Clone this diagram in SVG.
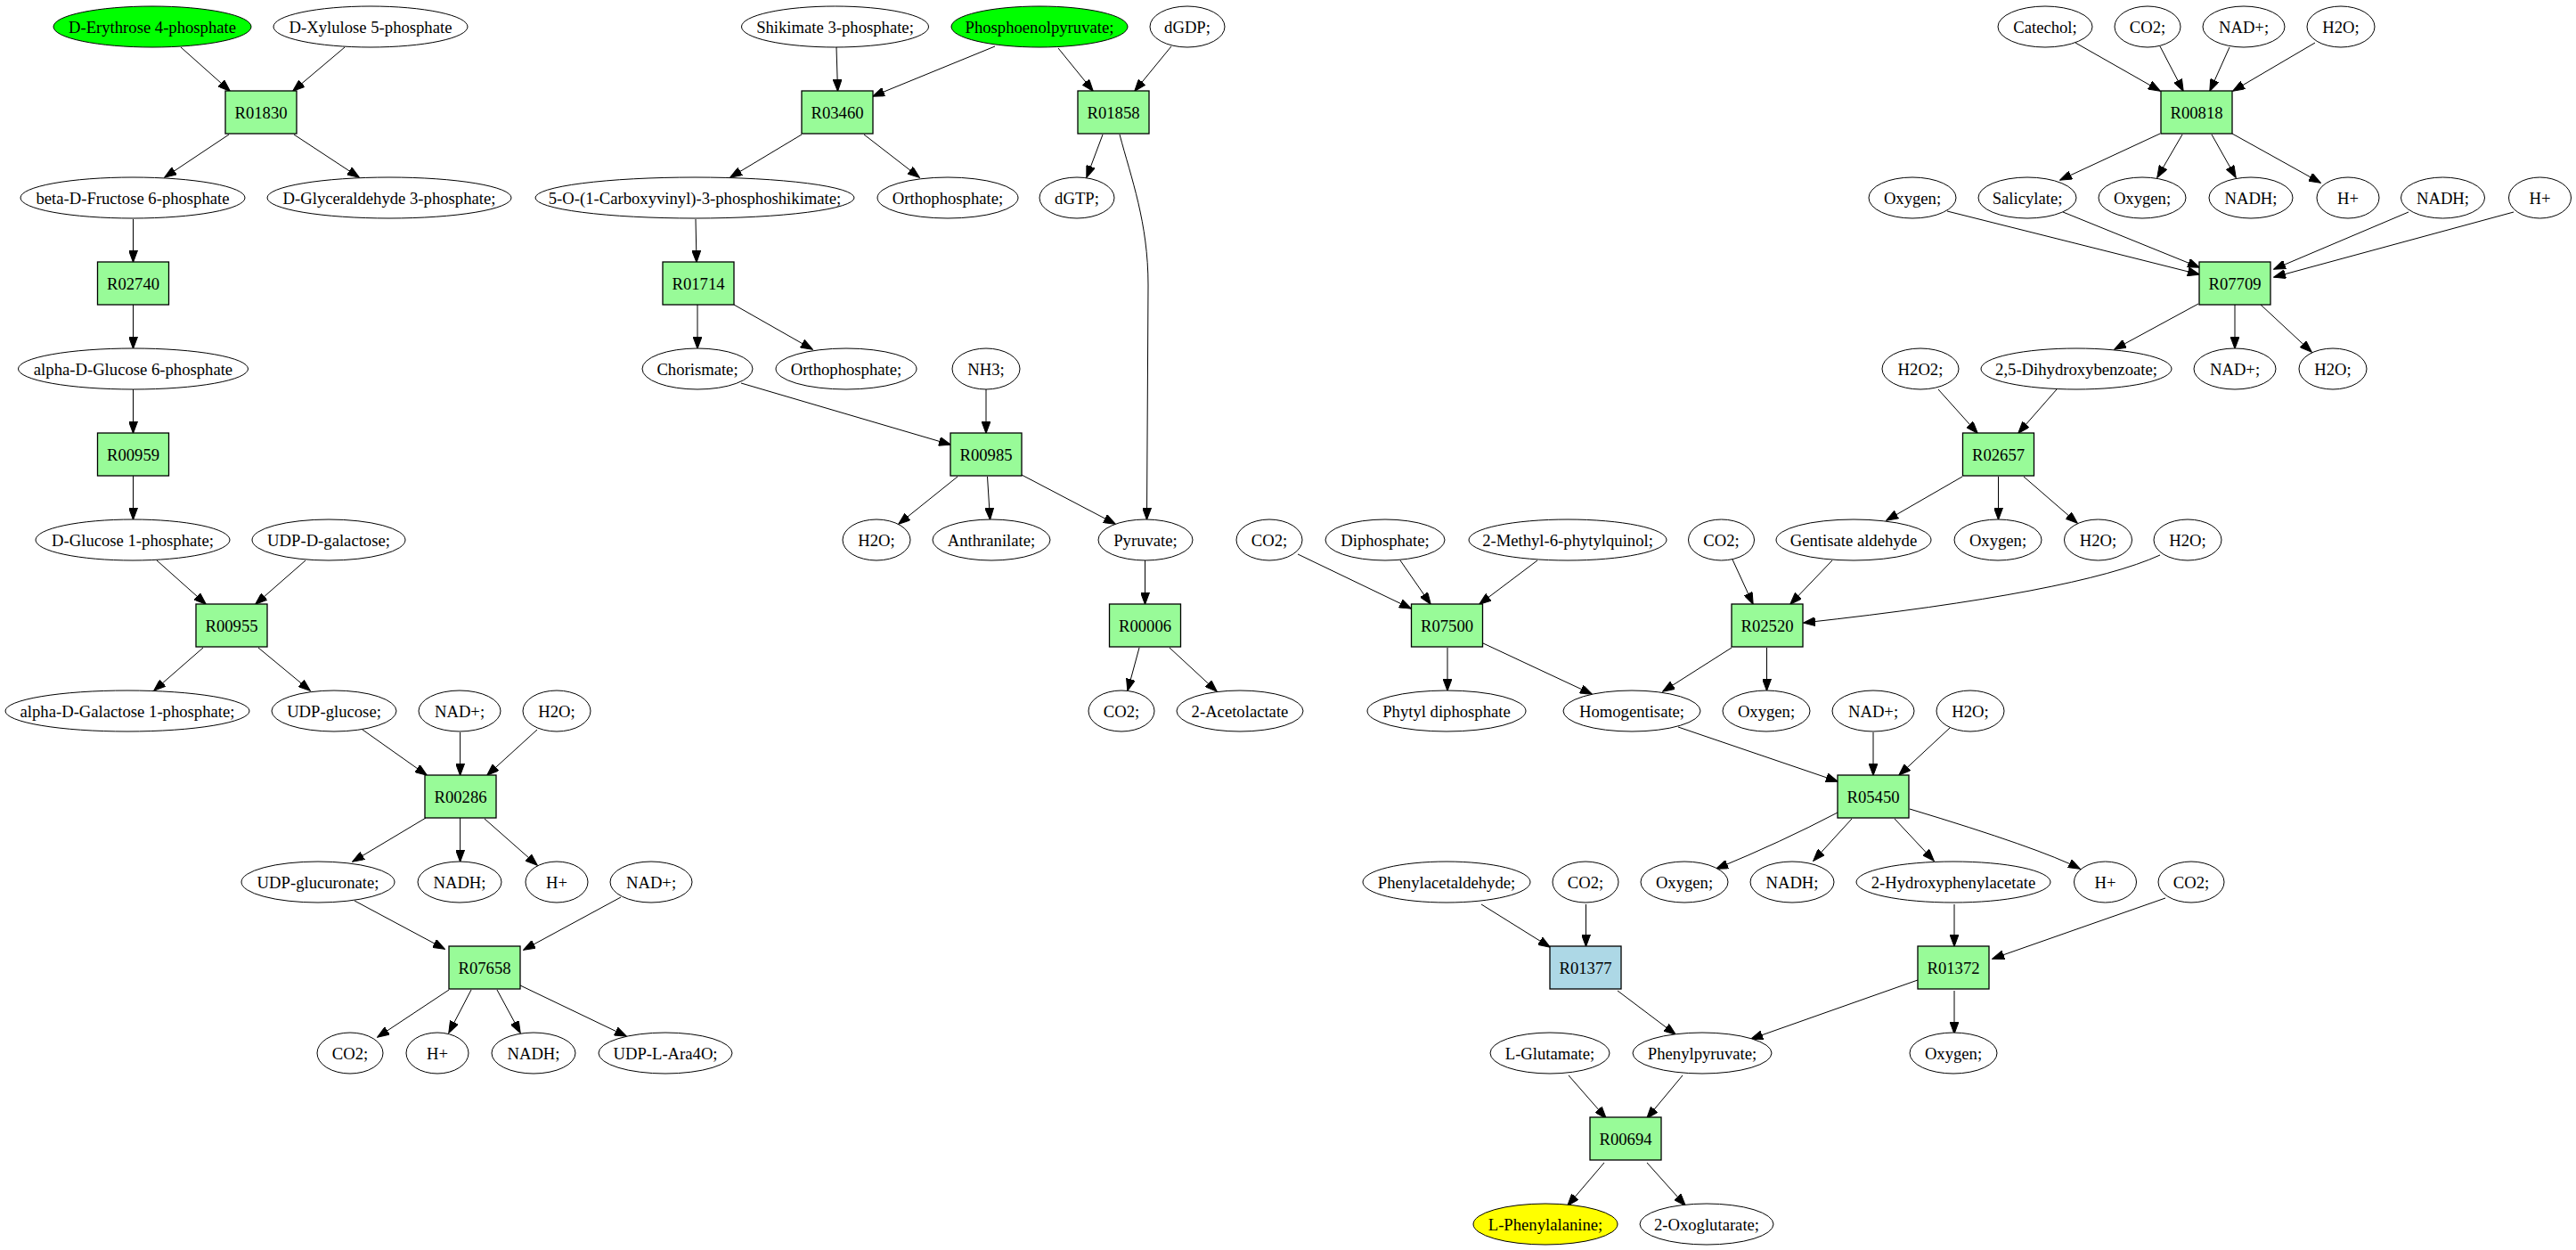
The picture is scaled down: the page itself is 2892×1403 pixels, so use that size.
<svg xmlns="http://www.w3.org/2000/svg" width="2892" height="1403" viewBox="0 0 2892 1403">
<defs>
<marker id="a" markerUnits="userSpaceOnUse" markerWidth="14" markerHeight="10" refX="13" refY="5" orient="auto" viewBox="0 0 14 10"><path d="M0,0 L13.5,5 L0,10 z" fill="#000" stroke="#000" stroke-width="1"/></marker>
<style>
.m ellipse{fill:#fff;stroke:#000;stroke-width:1}
.g ellipse{fill:#00ff00}
.y ellipse{fill:#ffff00}
.r rect{fill:#98fb98;stroke:#000;stroke-width:1.3}
.b rect{fill:#add8e6}
text{font-family:"Liberation Serif","Times New Roman",serif;font-size:18.67px;text-anchor:middle;fill:#000}
#edges path{fill:none;stroke:#000;stroke-width:1;marker-end:url(#a)}
</style>
</defs>
<rect width="2892" height="1403" fill="#fff"/>
<g id="edges">
<path d="M203,53 L258,102"/>
<path d="M387,53 L329,102"/>
<path d="M257,151 L185,199"/>
<path d="M330,151 L403,199"/>
<path d="M149.5,246 L149.5,294"/>
<path d="M149.5,342 L149.5,391"/>
<path d="M149.5,437 L149.5,486"/>
<path d="M149.5,534 L149.5,583"/>
<path d="M176,629 L231,678"/>
<path d="M343,629 L287,678"/>
<path d="M228,727 L173,775"/>
<path d="M290,727 L348,775"/>
<path d="M407,819 L479,870"/>
<path d="M516.6,822 L516.6,870"/>
<path d="M603,819 L547,870"/>
<path d="M478,918 L396,967"/>
<path d="M516.6,918 L516.6,967"/>
<path d="M544,919 L603,971"/>
<path d="M398,1011 L499,1065"/>
<path d="M697,1007 L588,1066"/>
<path d="M504,1111 L424,1164"/>
<path d="M529,1111 L504,1159"/>
<path d="M558,1111 L584,1159"/>
<path d="M584,1106 L703,1163"/>
<path d="M939,53 L940.5,102"/>
<path d="M1117,52 L980,108"/>
<path d="M1188,54 L1227,102"/>
<path d="M1315,52 L1274,102"/>
<path d="M900,151 L820,199"/>
<path d="M970,151 L1032,199"/>
<path d="M1238,151 L1220,199"/>
<path d="M1257,151 C1270,200 1289,250 1289,320 L1287.5,583"/>
<path d="M781,246 L782,294"/>
<path d="M783,342 L783,391"/>
<path d="M824,342 L912,392"/>
<path d="M832,430 L1067,499"/>
<path d="M1107,437 L1107,486"/>
<path d="M1075,535 L1009,588"/>
<path d="M1108.5,535 L1111.5,583"/>
<path d="M1147,533 L1252,588"/>
<path d="M1285.5,629 L1285.5,678"/>
<path d="M1279,727 L1266,775"/>
<path d="M1313,727 L1366,776"/>
<path d="M2330,48 L2425,102"/>
<path d="M2425,52 L2451,102"/>
<path d="M2503,53 L2481,102"/>
<path d="M2599,48 L2507,102"/>
<path d="M2425,150 L2313,202"/>
<path d="M2450,151 L2422,199"/>
<path d="M2483,151 L2510,199"/>
<path d="M2506,150 L2605,205"/>
<path d="M2186,237 L2469,308"/>
<path d="M2316,238 L2469,300"/>
<path d="M2704,238 L2553,302"/>
<path d="M2822,238 L2553,311"/>
<path d="M2468,341 L2374,392"/>
<path d="M2509,342 L2509,391"/>
<path d="M2538,342 L2595,395"/>
<path d="M2176,437 L2220,486"/>
<path d="M2309,437 L2266,486"/>
<path d="M2203,535 L2118,584"/>
<path d="M2243.5,535 L2243.5,583"/>
<path d="M2272,535 L2332,587"/>
<path d="M2057,629 L2010,678"/>
<path d="M2425,623 Q2333,665 2025,699"/>
<path d="M1457,622 L1584,683"/>
<path d="M1572,629 L1606,678"/>
<path d="M1726,629 L1661,678"/>
<path d="M1945,628 L1968,678"/>
<path d="M1625,727 L1625,775"/>
<path d="M1665,722 L1787,779"/>
<path d="M1944,727 L1867,776"/>
<path d="M1983.5,727 L1983.5,775"/>
<path d="M1884,816 L2063,877"/>
<path d="M2103,822 L2103,870"/>
<path d="M2189,817 L2132,870"/>
<path d="M2063,912 Q2000,945 1927,975"/>
<path d="M2079,919 L2036,966"/>
<path d="M2127,919 L2171,966"/>
<path d="M2144,908 Q2290,952 2335,975"/>
<path d="M1663,1015 L1740,1063"/>
<path d="M1780.5,1015 L1780.5,1062"/>
<path d="M2194,1015 L2194,1062"/>
<path d="M2431,1008 L2237,1076"/>
<path d="M1816,1112 L1881,1161"/>
<path d="M2153,1100 L1966,1166"/>
<path d="M2194,1112 L2194,1160"/>
<path d="M1761,1207 L1803,1255"/>
<path d="M1889,1207 L1849,1255"/>
<path d="M1801,1305 L1760,1353"/>
<path d="M1849,1305 L1892,1353"/>
</g>
<g id="n1" class="m g"><ellipse cx="171" cy="30" rx="111" ry="23"/><text x="171" y="36.5">D-Erythrose 4-phosphate</text></g>
<g id="n2" class="m"><ellipse cx="416" cy="30" rx="109" ry="23"/><text x="416" y="36.5">D-Xylulose 5-phosphate</text></g>
<g id="R01830" class="r"><rect x="253" y="102" width="80" height="48"/><text x="293" y="132.5">R01830</text></g>
<g id="n3" class="m"><ellipse cx="149" cy="222" rx="126" ry="23"/><text x="149" y="228.5">beta-D-Fructose 6-phosphate</text></g>
<g id="n4" class="m"><ellipse cx="437" cy="222" rx="137" ry="23"/><text x="437" y="228.5">D-Glyceraldehyde 3-phosphate;</text></g>
<g id="R02740" class="r"><rect x="109.5" y="294" width="80" height="48"/><text x="149.5" y="324.5">R02740</text></g>
<g id="n5" class="m"><ellipse cx="149.5" cy="414" rx="129" ry="23"/><text x="149.5" y="420.5">alpha-D-Glucose 6-phosphate</text></g>
<g id="R00959" class="r"><rect x="109.5" y="486" width="80" height="48"/><text x="149.5" y="516.5">R00959</text></g>
<g id="n6" class="m"><ellipse cx="149" cy="606" rx="109" ry="23"/><text x="149" y="612.5">D-Glucose 1-phosphate;</text></g>
<g id="n7" class="m"><ellipse cx="369" cy="606" rx="86" ry="23"/><text x="369" y="612.5">UDP-D-galactose;</text></g>
<g id="R00955" class="r"><rect x="220" y="678" width="80" height="48"/><text x="260" y="708.5">R00955</text></g>
<g id="n8" class="m"><ellipse cx="143" cy="798" rx="137" ry="23"/><text x="143" y="804.5">alpha-D-Galactose 1-phosphate;</text></g>
<g id="n9" class="m"><ellipse cx="375" cy="798" rx="70" ry="23"/><text x="375" y="804.5">UDP-glucose;</text></g>
<g id="n10" class="m"><ellipse cx="516" cy="798" rx="46" ry="23"/><text x="516" y="804.5">NAD+;</text></g>
<g id="n11" class="m"><ellipse cx="625" cy="798" rx="38" ry="23"/><text x="625" y="804.5">H2O;</text></g>
<g id="R00286" class="r"><rect x="477" y="870" width="80" height="48"/><text x="517" y="900.5">R00286</text></g>
<g id="n12" class="m"><ellipse cx="357" cy="990" rx="86" ry="23"/><text x="357" y="996.5">UDP-glucuronate;</text></g>
<g id="n13" class="m"><ellipse cx="516" cy="990" rx="47" ry="23"/><text x="516" y="996.5">NADH;</text></g>
<g id="n14" class="m"><ellipse cx="625" cy="990" rx="35" ry="23"/><text x="625" y="996.5">H+</text></g>
<g id="n15" class="m"><ellipse cx="731" cy="990" rx="46" ry="23"/><text x="731" y="996.5">NAD+;</text></g>
<g id="R07658" class="r"><rect x="504" y="1062" width="80" height="48"/><text x="544" y="1092.5">R07658</text></g>
<g id="n16" class="m"><ellipse cx="393" cy="1182" rx="37" ry="23"/><text x="393" y="1188.5">CO2;</text></g>
<g id="n17" class="m"><ellipse cx="491" cy="1182" rx="35" ry="23"/><text x="491" y="1188.5">H+</text></g>
<g id="n18" class="m"><ellipse cx="599" cy="1182" rx="47" ry="23"/><text x="599" y="1188.5">NADH;</text></g>
<g id="n19" class="m"><ellipse cx="747" cy="1182" rx="75" ry="23"/><text x="747" y="1188.5">UDP-L-Ara4O;</text></g>
<g id="n20" class="m"><ellipse cx="937.5" cy="30" rx="105" ry="23"/><text x="937.5" y="36.5">Shikimate 3-phosphate;</text></g>
<g id="n21" class="m g"><ellipse cx="1167" cy="30" rx="99" ry="23"/><text x="1167" y="36.5">Phosphoenolpyruvate;</text></g>
<g id="n22" class="m"><ellipse cx="1333" cy="30" rx="42" ry="23"/><text x="1333" y="36.5">dGDP;</text></g>
<g id="R03460" class="r"><rect x="900" y="102" width="80" height="48"/><text x="940" y="132.5">R03460</text></g>
<g id="R01858" class="r"><rect x="1210" y="102" width="80" height="48"/><text x="1250" y="132.5">R01858</text></g>
<g id="n23" class="m"><ellipse cx="780" cy="222" rx="179" ry="23"/><text x="780" y="228.5">5-O-(1-Carboxyvinyl)-3-phosphoshikimate;</text></g>
<g id="n24" class="m"><ellipse cx="1064" cy="222" rx="79" ry="23"/><text x="1064" y="228.5">Orthophosphate;</text></g>
<g id="n25" class="m"><ellipse cx="1209" cy="222" rx="42" ry="23"/><text x="1209" y="228.5">dGTP;</text></g>
<g id="R01714" class="r"><rect x="744" y="294" width="80" height="48"/><text x="784" y="324.5">R01714</text></g>
<g id="n26" class="m"><ellipse cx="783" cy="414" rx="62" ry="23"/><text x="783" y="420.5">Chorismate;</text></g>
<g id="n27" class="m"><ellipse cx="950" cy="414" rx="79" ry="23"/><text x="950" y="420.5">Orthophosphate;</text></g>
<g id="n28" class="m"><ellipse cx="1107" cy="414" rx="38" ry="23"/><text x="1107" y="420.5">NH3;</text></g>
<g id="R00985" class="r"><rect x="1067" y="486" width="80" height="48"/><text x="1107" y="516.5">R00985</text></g>
<g id="n29" class="m"><ellipse cx="984" cy="606" rx="38" ry="23"/><text x="984" y="612.5">H2O;</text></g>
<g id="n30" class="m"><ellipse cx="1113" cy="606" rx="66" ry="23"/><text x="1113" y="612.5">Anthranilate;</text></g>
<g id="n31" class="m"><ellipse cx="1286" cy="606" rx="53" ry="23"/><text x="1286" y="612.5">Pyruvate;</text></g>
<g id="R00006" class="r"><rect x="1245.5" y="678" width="80" height="48"/><text x="1285.5" y="708.5">R00006</text></g>
<g id="n32" class="m"><ellipse cx="1259" cy="798" rx="37" ry="23"/><text x="1259" y="804.5">CO2;</text></g>
<g id="n33" class="m"><ellipse cx="1392" cy="798" rx="71" ry="23"/><text x="1392" y="804.5">2-Acetolactate</text></g>
<g id="n34" class="m"><ellipse cx="2296" cy="30" rx="53" ry="23"/><text x="2296" y="36.5">Catechol;</text></g>
<g id="n35" class="m"><ellipse cx="2411" cy="30" rx="37" ry="23"/><text x="2411" y="36.5">CO2;</text></g>
<g id="n36" class="m"><ellipse cx="2519" cy="30" rx="46" ry="23"/><text x="2519" y="36.5">NAD+;</text></g>
<g id="n37" class="m"><ellipse cx="2628" cy="30" rx="38" ry="23"/><text x="2628" y="36.5">H2O;</text></g>
<g id="R00818" class="r"><rect x="2426" y="102" width="80" height="48"/><text x="2466" y="132.5">R00818</text></g>
<g id="n38" class="m"><ellipse cx="2147" cy="222" rx="49" ry="23"/><text x="2147" y="228.5">Oxygen;</text></g>
<g id="n39" class="m"><ellipse cx="2276" cy="222" rx="55" ry="23"/><text x="2276" y="228.5">Salicylate;</text></g>
<g id="n40" class="m"><ellipse cx="2405" cy="222" rx="49" ry="23"/><text x="2405" y="228.5">Oxygen;</text></g>
<g id="n41" class="m"><ellipse cx="2527" cy="222" rx="47" ry="23"/><text x="2527" y="228.5">NADH;</text></g>
<g id="n42" class="m"><ellipse cx="2636" cy="222" rx="35" ry="23"/><text x="2636" y="228.5">H+</text></g>
<g id="n43" class="m"><ellipse cx="2742.5" cy="222" rx="47" ry="23"/><text x="2742.5" y="228.5">NADH;</text></g>
<g id="n44" class="m"><ellipse cx="2851.5" cy="222" rx="35" ry="23"/><text x="2851.5" y="228.5">H+</text></g>
<g id="R07709" class="r"><rect x="2469" y="294" width="80" height="48"/><text x="2509" y="324.5">R07709</text></g>
<g id="n45" class="m"><ellipse cx="2156" cy="414" rx="43" ry="23"/><text x="2156" y="420.5">H2O2;</text></g>
<g id="n46" class="m"><ellipse cx="2331" cy="414" rx="107" ry="23"/><text x="2331" y="420.5">2,5-Dihydroxybenzoate;</text></g>
<g id="n47" class="m"><ellipse cx="2509" cy="414" rx="46" ry="23"/><text x="2509" y="420.5">NAD+;</text></g>
<g id="n48" class="m"><ellipse cx="2619" cy="414" rx="38" ry="23"/><text x="2619" y="420.5">H2O;</text></g>
<g id="R02657" class="r"><rect x="2203.5" y="486" width="80" height="48"/><text x="2243.5" y="516.5">R02657</text></g>
<g id="n49" class="m"><ellipse cx="1425" cy="606" rx="37" ry="23"/><text x="1425" y="612.5">CO2;</text></g>
<g id="n50" class="m"><ellipse cx="1555" cy="606" rx="67" ry="23"/><text x="1555" y="612.5">Diphosphate;</text></g>
<g id="n51" class="m"><ellipse cx="1760" cy="606" rx="111" ry="23"/><text x="1760" y="612.5">2-Methyl-6-phytylquinol;</text></g>
<g id="n52" class="m"><ellipse cx="1932.5" cy="606" rx="37" ry="23"/><text x="1932.5" y="612.5">CO2;</text></g>
<g id="n53" class="m"><ellipse cx="2081" cy="606" rx="87" ry="23"/><text x="2081" y="612.5">Gentisate aldehyde</text></g>
<g id="n54" class="m"><ellipse cx="2243" cy="606" rx="49" ry="23"/><text x="2243" y="612.5">Oxygen;</text></g>
<g id="n55" class="m"><ellipse cx="2355.5" cy="606" rx="38" ry="23"/><text x="2355.5" y="612.5">H2O;</text></g>
<g id="n56" class="m"><ellipse cx="2456" cy="606" rx="38" ry="23"/><text x="2456" y="612.5">H2O;</text></g>
<g id="R07500" class="r"><rect x="1584.5" y="678" width="80" height="48"/><text x="1624.5" y="708.5">R07500</text></g>
<g id="R02520" class="r"><rect x="1944" y="678" width="80" height="48"/><text x="1984" y="708.5">R02520</text></g>
<g id="n57" class="m"><ellipse cx="1624" cy="798" rx="89" ry="23"/><text x="1624" y="804.5">Phytyl diphosphate</text></g>
<g id="n58" class="m"><ellipse cx="1832" cy="798" rx="77" ry="23"/><text x="1832" y="804.5">Homogentisate;</text></g>
<g id="n59" class="m"><ellipse cx="1983" cy="798" rx="49" ry="23"/><text x="1983" y="804.5">Oxygen;</text></g>
<g id="n60" class="m"><ellipse cx="2103" cy="798" rx="46" ry="23"/><text x="2103" y="804.5">NAD+;</text></g>
<g id="n61" class="m"><ellipse cx="2212" cy="798" rx="38" ry="23"/><text x="2212" y="804.5">H2O;</text></g>
<g id="R05450" class="r"><rect x="2063" y="870" width="80" height="48"/><text x="2103" y="900.5">R05450</text></g>
<g id="n62" class="m"><ellipse cx="1624" cy="990" rx="94" ry="23"/><text x="1624" y="996.5">Phenylacetaldehyde;</text></g>
<g id="n63" class="m"><ellipse cx="1780" cy="990" rx="37" ry="23"/><text x="1780" y="996.5">CO2;</text></g>
<g id="n64" class="m"><ellipse cx="1891" cy="990" rx="49" ry="23"/><text x="1891" y="996.5">Oxygen;</text></g>
<g id="n65" class="m"><ellipse cx="2012" cy="990" rx="47" ry="23"/><text x="2012" y="996.5">NADH;</text></g>
<g id="n66" class="m"><ellipse cx="2193" cy="990" rx="109" ry="23"/><text x="2193" y="996.5">2-Hydroxyphenylacetate</text></g>
<g id="n67" class="m"><ellipse cx="2363.5" cy="990" rx="35" ry="23"/><text x="2363.5" y="996.5">H+</text></g>
<g id="n68" class="m"><ellipse cx="2460" cy="990" rx="37" ry="23"/><text x="2460" y="996.5">CO2;</text></g>
<g id="R01377" class="r b"><rect x="1740" y="1062" width="80" height="48"/><text x="1780" y="1092.5">R01377</text></g>
<g id="R01372" class="r"><rect x="2153" y="1062" width="80" height="48"/><text x="2193" y="1092.5">R01372</text></g>
<g id="n69" class="m"><ellipse cx="1740" cy="1182" rx="67" ry="23"/><text x="1740" y="1188.5">L-Glutamate;</text></g>
<g id="n70" class="m"><ellipse cx="1911" cy="1182" rx="78" ry="23"/><text x="1911" y="1188.5">Phenylpyruvate;</text></g>
<g id="n71" class="m"><ellipse cx="2193" cy="1182" rx="49" ry="23"/><text x="2193" y="1188.5">Oxygen;</text></g>
<g id="R00694" class="r"><rect x="1785" y="1254" width="80" height="48"/><text x="1825" y="1284.5">R00694</text></g>
<g id="n72" class="m y"><ellipse cx="1735" cy="1374" rx="81" ry="23"/><text x="1735" y="1380.5">L-Phenylalanine;</text></g>
<g id="n73" class="m"><ellipse cx="1916" cy="1374" rx="75" ry="23"/><text x="1916" y="1380.5">2-Oxoglutarate;</text></g>
</svg>
